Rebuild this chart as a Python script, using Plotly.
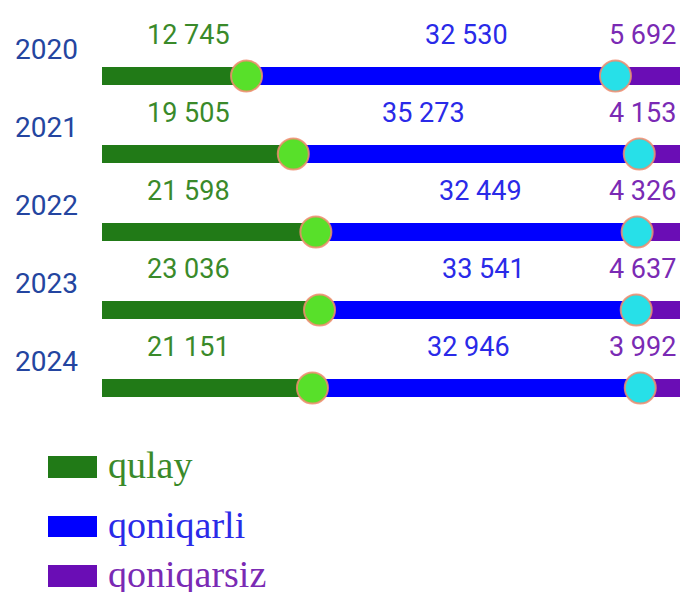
import plotly.graph_objects as go

years = ["2020", "2021", "2022", "2023", "2024"]
qulay = [12745, 19505, 21598, 23036, 21151]
qoniqarli = [32530, 35273, 32449, 33541, 32946]
qoniqarsiz = [5692, 4153, 4326, 4637, 3992]
series_names = ["qulay", "qoniqarli", "qoniqarsiz"]

W, H = 681, 592
ML, MR, MT, MB = 102, 1, 37, 165
PW, PH = W - ML - MR, H - MT - MB

C_GREEN, C_BLUE, C_PURPLE = "#217a17", "#0000ff", "#6a0db5"
T_GREEN, T_BLUE, T_PURPLE = "#3a8a2a", "#2a2ae8", "#7a2ab4"
NUM_FONT = "Roboto, sans-serif"
# label placement tweaks (pixels) for the middle-segment labels, as laid out in the source
mid_label_shift = [36, -43, 4, 6, -8]


def fmt(v):
    return f"{v:,}".replace(",", " ")


def px_x(p):
    return (p - ML) / PW


def px_y(p):
    return (H - MB - p) / PH


ypos = list(range(len(years)))

fig = go.Figure()
for name, vals, col in zip(series_names, [qulay, qoniqarli, qoniqarsiz], [C_GREEN, C_BLUE, C_PURPLE]):
    fig.add_trace(go.Bar(y=ypos, x=vals, name=name, orientation="h",
                         marker=dict(color=col, line=dict(width=0)), width=0.22,
                         showlegend=False, hoverinfo="skip"))

totals = [a + b + c for a, b, c in zip(qulay, qoniqarli, qoniqarsiz)]
p1 = [100 * a / t for a, t in zip(qulay, totals)]
p2 = [100 * (a + b) / t for a, b, t in zip(qulay, qoniqarli, totals)]

ring = dict(color="rgba(240,140,110,0.85)", width=2)
fig.add_trace(go.Scatter(x=p1, y=ypos, mode="markers", showlegend=False, hoverinfo="skip",
                         marker=dict(size=31, color="#58e02a", line=ring)))
fig.add_trace(go.Scatter(x=p2, y=ypos, mode="markers", showlegend=False, hoverinfo="skip",
                         marker=dict(size=31, color="#27e0e8", line=ring)))

ann = []
for i, y in enumerate(years):
    ann.append(dict(x=px_x(46), xref="paper", y=i, yref="y", yshift=27, text=y, showarrow=False,
                    xanchor="center", font=dict(family=NUM_FONT, size=28, color="#2445a0")))
    ann.append(dict(x=7.4, y=i, yshift=41, text=fmt(qulay[i]), showarrow=False, xanchor="left",
                    font=dict(family=NUM_FONT, size=27, color=T_GREEN)))
    ann.append(dict(x=(p1[i] + p2[i]) / 2, y=i, yshift=41, xshift=mid_label_shift[i],
                    text=fmt(qoniqarli[i]), showarrow=False, xanchor="center",
                    font=dict(family=NUM_FONT, size=27, color=T_BLUE)))
    ann.append(dict(x=100, y=i, yshift=41, text=fmt(qoniqarsiz[i]), showarrow=False, xanchor="right",
                    xshift=-2, font=dict(family=NUM_FONT, size=27, color=T_PURPLE)))

shapes = []
leg_rows = [(456, 478), (516, 537), (565, 587)]
for (y0, y1), name, col, tcol in zip(leg_rows, series_names, [C_GREEN, C_BLUE, C_PURPLE],
                                     [T_GREEN, T_BLUE, T_PURPLE]):
    shapes.append(dict(type="rect", xref="paper", yref="paper", x0=px_x(48), x1=px_x(97),
                       y0=px_y(y1), y1=px_y(y0), fillcolor=col, line=dict(width=0)))
    ann.append(dict(x=px_x(106), xref="paper", y=px_y((y0 + y1) / 2 - 2), yref="paper", text=name,
                    showarrow=False, xanchor="left", yanchor="middle",
                    font=dict(family="Liberation Serif, Times New Roman, serif", size=38, color=tcol)))

fig.update_layout(
    width=W, height=H, margin=dict(l=ML, r=MR, t=MT, b=MB),
    barmode="stack", barnorm="percent", bargap=0,
    plot_bgcolor="white", paper_bgcolor="white",
    xaxis=dict(range=[0, 100], visible=False, fixedrange=True),
    yaxis=dict(range=[len(years) - 0.5, -0.5], visible=False, fixedrange=True),
    annotations=ann, shapes=shapes, hovermode=False,
)
fig.write_html("out.html", config={"displayModeBar": False},
               post_script="document.body.style.margin='0';document.body.style.overflow='hidden';")
